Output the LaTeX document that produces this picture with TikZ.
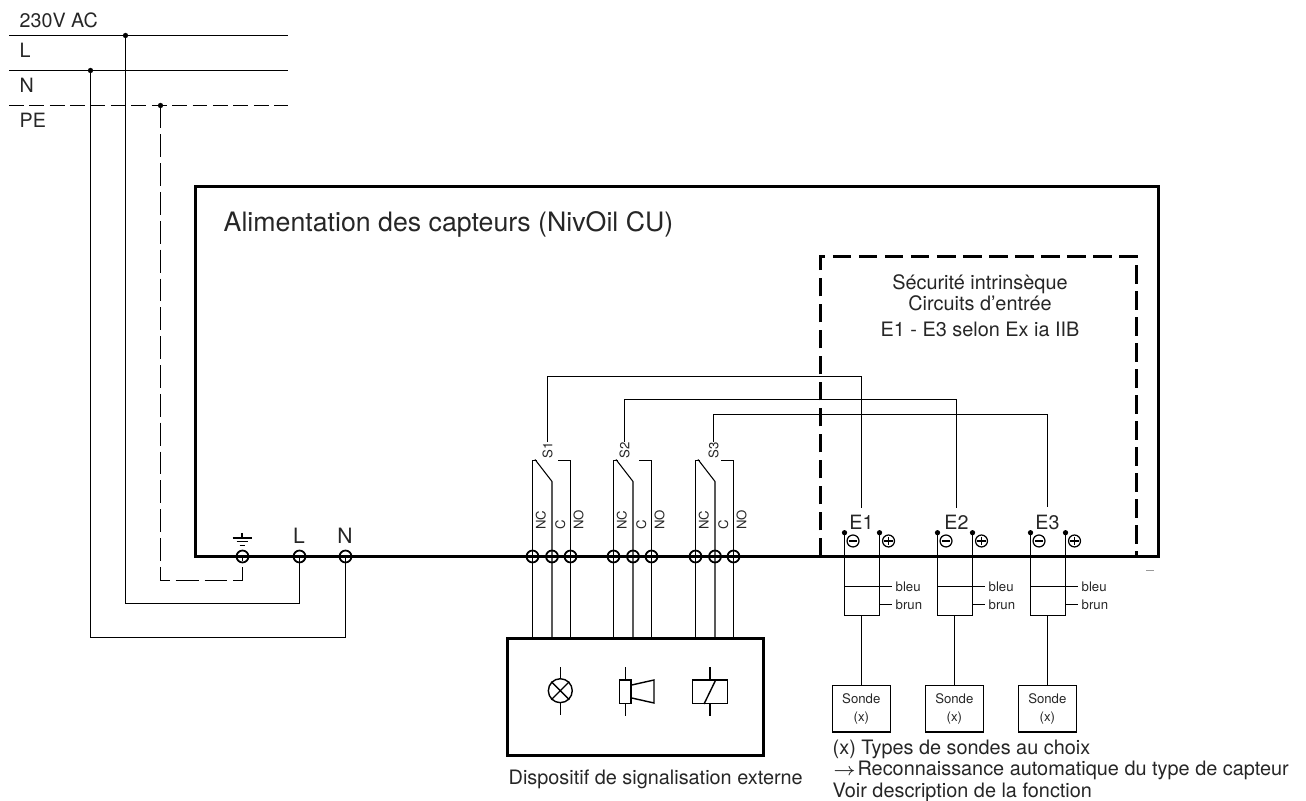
\documentclass[tikz,border=0pt]{standalone}
\usepackage{fontspec}
\setmainfont{TeX Gyre Heros}
\begin{document}
\tikzset{
    textbig/.style={font=\fontsize{7.6pt}{8pt}\selectfont},
    textmid/.style={font=\fontsize{5.6pt}{6pt}\selectfont},
    textnote/.style={font=\fontsize{5.65pt}{6pt}\selectfont},
    texttiny/.style={font=\fontsize{3.75pt}{4.5pt}\selectfont},
    wire/.style={line width=0.3pt},
    bus/.style={line width=0.85pt},
    term/.style={circle,draw,line width=0.5pt,minimum size=3.4pt,inner sep=0pt},
    sign/.style={circle,draw,line width=0.35pt,minimum size=3.4pt,inner sep=0pt},
    dotj/.style={circle,fill,minimum size=1.5pt,inner sep=0pt},
    sondebox/.style={draw,line width=0.4pt,minimum width=16.5pt,minimum height=13.2pt,inner sep=0pt,align=center,texttiny},
}
\begin{tikzpicture}[
                        x=0.01cm,
                        y=-0.01cm,
                        every node/.style={
                                text=black!85,
                                inner sep=0pt,
                            },
                    ]

                    \useasboundingbox (0,0) rectangle (1306,801);

                    \node[textmid,anchor=base west] (lblac) at (19,27.5) {230V AC};
                    \node[textmid,anchor=base west] (lbll) at (19,57.5) {L};
                    \node[textmid,anchor=base west] (lbln) at (19,92.7) {N};
                    \node[textmid,anchor=base west] (lblpe) at (19,128) {PE};

                    \coordinate (railla) at (9,35.5);
                    \coordinate (raillb) at (288,35.5);
                    \coordinate (railna) at (9,70.5);
                    \coordinate (railnb) at (288,70.5);
                    \coordinate (railpa) at (9,105.5);
                    \coordinate (railpb) at (288,105.5);
                    \node[dotj] (dotl) at (125.5,35.5) {};
                    \node[dotj] (dotn) at (90.5,70.5) {};
                    \node[dotj] (dotp) at (160.5,105.5) {};
                    \draw[wire] (railla) -- (raillb);
                    \draw[wire] (railna) -- (railnb);
                    \draw[wire,dash pattern=on 4.2pt off 1.6pt] (railpa) -- (railpb);

                    \node[textbig,anchor=base west] (title) at (223,232) {Alimentation des capteurs (NivOil CU)};
                    \node[textnote,anchor=base] (safea) at (980,290) {Sécurité intrinsèque};
                    \node[textnote,anchor=base] (safeb) at (980,310.5) {Circuits d'entrée};
                    \node[textnote,anchor=base] (safec) at (980,336.5) {E1 - E3 selon Ex ia IIB};

                    \coordinate (boxa) at (195.5,556.5);
                    \coordinate (boxb) at (195.5,186.5);
                    \coordinate (boxc) at (1158.5,186.5);
                    \coordinate (boxd) at (1158.5,556.5);
                    \draw[bus] (boxa) -- (boxb) -- (boxc) -- (boxd) -- cycle;
                    \coordinate (dasha) at (820.5,556.5);
                    \coordinate (dashb) at (820.5,256.5);
                    \coordinate (dashc) at (1136.5,256.5);
                    \coordinate (dashd) at (1136.5,556.5);
                    \draw[bus,dash pattern=on 5.3pt off 2.1pt] (dasha) -- (dashb) -- (dashc) -- (dashd);

                    \node[term] (tpe) at (242.5,556.5) {};
                    \node[term] (tl) at (299.5,556.5) {};
                    \node[term] (tn) at (345.5,556.5) {};
                    \node[font=\fontsize{6pt}{6pt}\selectfont] (ll) at (299,535.5) {L};
                    \node[font=\fontsize{6pt}{6pt}\selectfont] (ln) at (345,535.5) {N};

                    \draw[wire] (dotl.center) |- (tl.center |- 0,603.5) -- (tl.center);
                    \draw[wire] (dotn.center) |- (tn.center |- 0,637.5) -- (tn.center);
                    \draw[wire,dash pattern=on 6.5pt off 1.7pt] (dotp.center) |- (tpe.center |- 0,580.5) -- (tpe.center);

                    \coordinate (gnd) at (242,533);
                    \draw[wire] (gnd) -- ++(0,5) ++(-9.5,0) -- ++(19,0) ++(-15,3.6) -- ++(11,0) ++(-8,3.6) -- ++(5,0);

                    \node[draw,line width=0.85pt,minimum width=72.8pt,minimum height=33.2pt] (sigbox) at (635.7,696.7) {};
                    \node[textnote,anchor=base west] (siglbl) at (508,785) {Dispositif de signalisation externe};

                    \foreach \n/\x/\xs/\ytop/\xe/\xd in {1/532.5/547.5/376.5/861.5/844.5,2/613.5/624.5/399.5/956.5/937.5,3/695.5/713.5/414.5/1047.5/1030.5}{
                            \node[term] (nc\n) at (\x,556.5) {};
                            \node[term] (c\n) at (\x+19.5,556.5) {};
                            \node[term] (no\n) at (\x+38,556.5) {};

                            \draw[wire] (nc\n.center |- sigbox.north) -- (nc\n.center) -- ++(0,-96) -- ++(4,0);
                            \draw[wire] (c\n.center |- sigbox.north) -- (c\n.center) -- ++(0,-75) -- ++(-17,-22);
                            \draw[wire] (no\n.center |- sigbox.north) -- (no\n.center) -- ++(0,-96) -- ++(-13,0);

                            \node[texttiny,rotate=90] (lnc\n) at (\x+8.2,520) {NC};
                            \node[texttiny,rotate=90] (lc\n) at (\x+27.7,525) {C};
                            \node[texttiny,rotate=90] (lno\n) at (\x+46,520) {NO};
                            \node[texttiny,rotate=90] (s\n) at (\xs,450.5) {S\n};

                            \node[textmid,inner ysep=2pt] (e\n) at (\xe,522.5) {E\n};
                            \draw[wire] (s\n.east) |- (e\n.north |- 0,\ytop) -- (e\n.north);

                            \node[dotj] (em\n) at (\xd,532.7) {};
                            \node[dotj] (ep\n) at (\xd+35,532.7) {};
                            \node[sign] (signm\n) at (\xd+8.5,541) {};
                            \node[sign] (signp\n) at (\xd+44,541) {};
                            \draw[line width=0.3pt,shorten >=0.7pt,shorten <=0.7pt] (signm\n.west) -- (signm\n.east);
                            \draw[line width=0.3pt,shorten >=0.7pt,shorten <=0.7pt] (signp\n.west) -- (signp\n.east);
                            \draw[line width=0.3pt,shorten >=0.7pt,shorten <=0.7pt] (signp\n.north) -- (signp\n.south);

                            \draw[wire] (em\n.center) |- (ep\n.center |- 0,615.5) -- (ep\n.center);
                            \coordinate (bl\n) at (\xd+47,586.5);
                            \coordinate (br\n) at (\xd+47,604.5);
                            \draw[wire] (em\n.center |- bl\n) -- (bl\n);
                            \draw[wire] (ep\n.center |- br\n) -- (br\n);
                            \node[texttiny,anchor=west] (lbl\n) at ([xshift=1pt]bl\n) {bleu};
                            \node[texttiny,anchor=west] (lbr\n) at ([xshift=1pt]br\n) {brun};

                            \node[sondebox,anchor=north] (sonde\n) at (\xd+16.8,684.7) {Sonde\\[0.6pt](x)};
                            \draw[line width=0.4pt] (sonde\n.north) -- (sonde\n.north |- 0,615.5);
                        }

                    \node[draw,circle,line width=0.4pt,minimum size=6.8pt] (lamp) at (560.3,690.7) {};
                    \draw[line width=0.4pt] (lamp.north) -- ++(0,-11.5) (lamp.south) -- ++(0,11.5);
                    \draw[line width=0.4pt] (lamp.north west) -- (lamp.south east) (lamp.north east) -- (lamp.south west);

                    \node[draw,line width=0.4pt,minimum width=3.3pt,minimum height=6.6pt] (horn) at (625.2,691.7) {};
                    \draw[line width=0.4pt] (horn.north) -- ++(0,-12) (horn.south) -- ++(0,12);
                    \draw[line width=0.4pt] (horn.east |- 0,685) -- (654,680) -- (654,703) -- (horn.east |- 0,698);

                    \node[draw,line width=0.4pt,minimum width=10.1pt,minimum height=6.6pt] (relay) at (710,691.7) {};
                    \draw[line width=0.4pt] (relay.north) -- ++(0,-12) (relay.south) -- ++(0,12);
                    \draw[line width=0.4pt] ([xshift=-1.7pt]relay.south) -- ([xshift=1.7pt]relay.north);

                    \node[textnote,anchor=base west] (notea) at (832,755) {(x) Types de sondes au choix};
                    \node[textnote,anchor=base west] (noteb) at (832,776) {{\fontsize{5pt}{6pt}\selectfont$\rightarrow$}\hspace{-1.3pt} Reconnaissance automatique du type de capteur};
                    \node[textnote,anchor=base west] (notec) at (832,798) {Voir description de la fonction};

                    \coordinate (marka) at (1146,570);
                    \coordinate (markb) at (1154,570);
                    \draw[line width=0.25pt,black!40] (marka) -- (markb);
                \end{tikzpicture}
\end{document}
